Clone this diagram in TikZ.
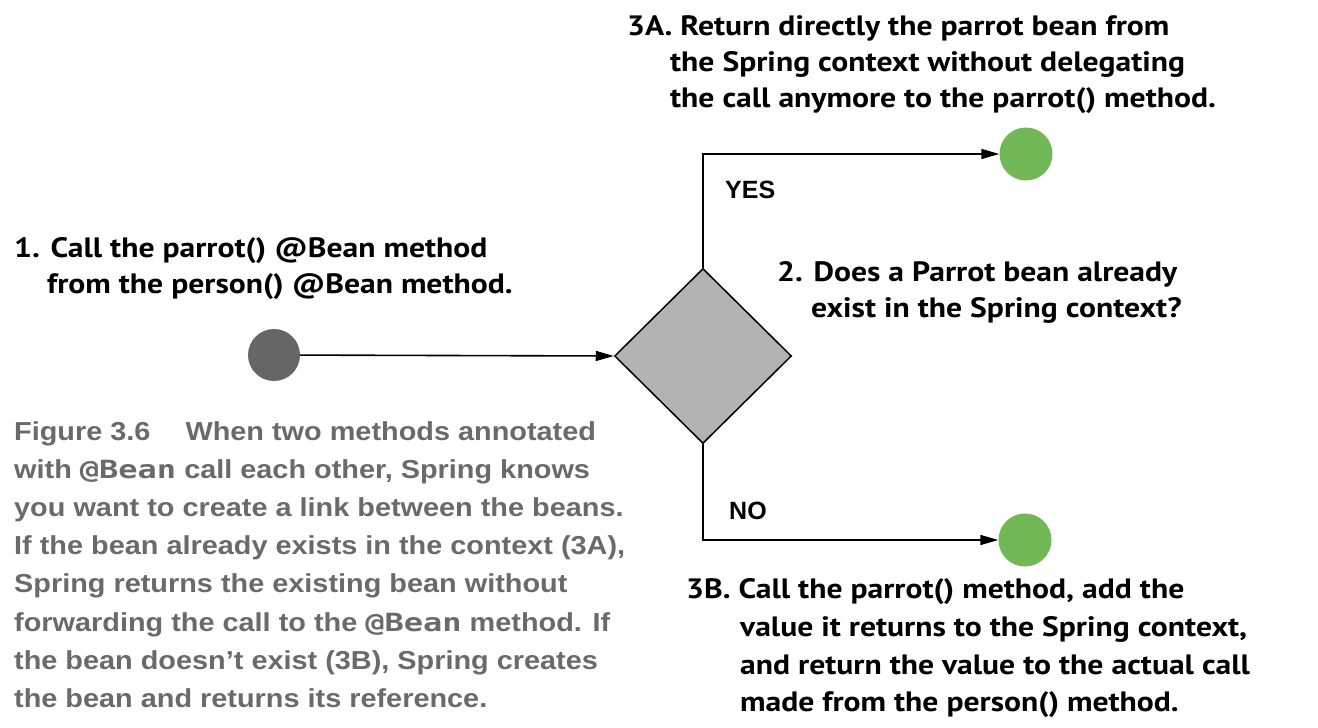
\documentclass[tikz,border=0pt]{standalone}
\usepackage{fontspec}
\usetikzlibrary{arrows.meta,shapes.geometric}
\newfontfamily\lblfont{PT Sans}[FakeStretch=1.13]
\newfontfamily\capfont{Liberation Sans}[FakeStretch=1.11]
\newfontfamily\ynfont{Liberation Sans}
\newfontfamily\codefont{DejaVu Sans Mono}[FakeStretch=1.28]
\definecolor{capgray}{HTML}{6A6A6A}
\definecolor{startgray}{HTML}{666666}
\definecolor{diagray}{HTML}{B3B3B3}
\definecolor{endgreen}{HTML}{72B856}
\tikzset{
  startc/.style={circle,fill=startgray,minimum size=52pt,inner sep=0},
  endc/.style={circle,fill=endgreen,minimum width=53pt,inner sep=0},
  dia/.style={diamond,draw=black,line width=1.5pt,fill=diagray,minimum width=177pt,minimum height=175pt,inner sep=0},
  arr/.style={line width=1.6pt,-{Triangle[length=18pt,width=10pt]}},
  lbl/.style={font=\lblfont\bfseries\fontsize{28}{36}\selectfont,inner sep=0,anchor=base west,text=black},
  yn/.style={font=\ynfont\bfseries\fontsize{25}{28}\selectfont,inner sep=0,anchor=base west},
  captxt/.style={font=\capfont\bfseries\fontsize{26}{38.1}\selectfont,text=capgray,align=left,inner sep=0,anchor=north west}
}
\newcommand{\cde}[1]{{\codefont\bfseries\fontsize{25}{38.1}\selectfont #1}}
\begin{document}
\begin{tikzpicture}[x=1pt,y=-1pt]
\useasboundingbox[fill=white] (0,0) rectangle (1318,728);
\node[startc] (s) at (274,355) {};
\node[dia] (d) at (703,356) {};
\node[endc] (a) at (1026,154) {};
\node[endc] (b) at (1025,540) {};
\draw[arr] (s) -- (d.west);
\draw[arr] (d.north) |- (a.west);
\draw[arr] (d.south) |- (b.west);
\node[yn] (yes) at (725,198.5) {YES};
\node[yn] (no) at (729,519.5) {NO};
% step 1
\node[lbl] (t1a) at (14,257) {1. Call the parrot() @Bean method};
\node[lbl] (t1b) at (47,293) {from the person() @Bean method.};
% step 2
\node[lbl] (t2a) at (777,281) {2. Does a Parrot bean already};
\node[lbl] (t2b) at (811,317) {exist in the Spring context?};
% step 3A
\node[lbl] (t3aa) at (627,35) {3A. Return directly the parrot bean from};
\node[lbl] (t3ab) at (670,71) {the Spring context without delegating};
\node[lbl] (t3ac) at (670,107) {the call anymore to the parrot() method.};
% step 3B
\node[lbl] (t3ba) at (686,598) {3B. Call the parrot() method, add the};
\node[lbl] (t3bb) at (740,636) {value it returns to the Spring context,};
\node[lbl] (t3bc) at (740,674) {and return the value to the actual call};
\node[lbl] (t3bd) at (740,711) {made from the person() method.};
\node[captxt] (capn) at (14,421.5) {Figure 3.6\hspace{35pt}When two methods annotated\\
with \cde{@Bean} call each other, Spring knows\\
you want to create a link between the beans.\\
If the bean already exists in the context (3A),\\
Spring returns the existing bean without\\
forwarding the call to the \cde{@Bean} method. If\\
the bean doesn’t exist (3B), Spring creates\\
the bean and returns its reference.};
\end{tikzpicture}
\end{document}
